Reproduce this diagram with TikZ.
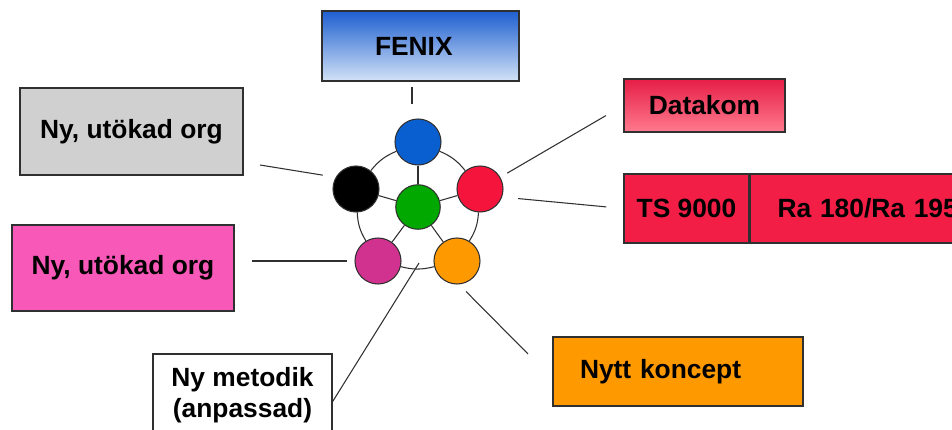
\documentclass[tikz,border=0pt]{standalone}
\usepackage{fontspec}
\setmainfont{Liberation Sans}
\usepackage{xcolor}
\definecolor{FenixTop}{HTML}{1E5FD0}
\definecolor{FenixBottom}{HTML}{D2E2F6}
\definecolor{DatakomTop}{HTML}{E61E46}
\definecolor{DatakomBottom}{HTML}{FF7A8E}
\definecolor{TsRed}{HTML}{F21E46}
\definecolor{OrgGrey}{HTML}{D0D0D0}
\definecolor{OrgPink}{HTML}{F858B8}
\definecolor{KonceptOrange}{HTML}{FF9900}
\definecolor{DotBlue}{HTML}{0A5FD0}
\definecolor{DotRed}{HTML}{F5143C}
\definecolor{DotGreen}{HTML}{00A800}
\definecolor{DotMagenta}{HTML}{D2328F}
\definecolor{DotOrange}{HTML}{FF9900}
\definecolor{LineGrey}{HTML}{303030}
\usepackage{tikz}
\usetikzlibrary{positioning}

\begin{document}
\begin{tikzpicture}[
    x=0.2mm, y=-0.2mm,
    box/.style={
      rectangle, draw=LineGrey, line width=0.9pt,
      inner sep=0pt, align=center,
      font=\fontsize{15}{17.5}\selectfont\bfseries
    },
    dot/.style={circle, draw=LineGrey, line width=0.6pt, minimum size=9.2mm, inner sep=0pt},
    ring/.style={LineGrey, line width=0.6pt},
    conn/.style={LineGrey, line width=0.6pt}
  ]
    \useasboundingbox (0,0) rectangle (952,429);
    \clip (0,0) rectangle (952,429);
    \fill[white] (0,0) rectangle (952,429);

    \node[box, top color=FenixTop, bottom color=FenixBottom, minimum height=14mm,
          inner xsep=10.6mm, text width=18.2mm, align=left] (fenix) at (420.5,46) {FENIX};
    \node[box, top color=DatakomTop, bottom color=DatakomBottom,
          minimum width=32.2mm, minimum height=10.6mm] (datakom) at (704.5,105.5) {Datakom};
    \node[box, fill=TsRed, minimum width=25mm, minimum height=13.8mm] (ts) at (686.5,208.5) {TS 9000};
    \node[box, fill=TsRed, minimum height=13.8mm, inner xsep=5.4mm, text width=49.2mm,
          align=left, right=0pt of ts] (ra) {Ra 180/Ra 195};
    \node[box, fill=OrgGrey, minimum width=44.6mm, minimum height=17.4mm] (grey) at (131.5,131.5) {Ny, utökad org};
    \node[box, fill=OrgPink, minimum width=44.4mm, minimum height=17.2mm] (pink) at (123,268) {Ny, utökad org};
    \node[box, fill=white, minimum width=35.8mm, minimum height=16.4mm] (metodik) at (242.5,395) {Ny metodik\\(anpassad)};
    \node[box, fill=KonceptOrange, minimum height=13.8mm, inner xsep=5.4mm, text width=39.2mm,
          align=left] (koncept) at (678,371.5) {Nytt koncept};

    \node[dot, fill=DotBlue] (blue) at (418,142) {};
    \node[dot, fill=black] (black) at (356,189) {};
    \node[dot, fill=DotRed] (red) at (480,189) {};
    \node[dot, fill=DotGreen, minimum size=8.9mm] (green) at (418,207) {};
    \node[dot, fill=DotMagenta] (magenta) at (378,261) {};
    \node[dot, fill=DotOrange] (orange) at (457,261) {};

    \draw[ring] (blue) to[bend left=14] (red);
    \draw[ring] (red) to[bend left=14] (orange);
    \draw[ring] (orange) to[bend left=14] (magenta);
    \draw[ring] (magenta) to[bend left=14] (black);
    \draw[ring] (black) to[bend left=14] (blue);
    \foreach \outer in {blue, red, orange, magenta, black}
      \draw[ring] (green) -- (\outer);

    \coordinate (fx) at (412,87);
    \coordinate (gy) at (260,165);
    \coordinate (mt) at (419,263);
    \coordinate (nk) at (528,354);

    \draw[conn, shorten >=2.8mm] (fx) -- (fx |- blue.north);
    \draw[conn, shorten <=1.6mm, shorten >=4mm] (red) -- (datakom.west);
    \draw[conn, shorten <=3.2mm, shorten >=3.4mm] (red.-20) -- (ts.west);
    \draw[conn, shorten <=2.6mm] (black.150) -- (gy);
    \draw[conn, shorten <=1.4mm, shorten >=3.4mm] (magenta.west) -- (magenta.west -| pink.east);
    \draw[conn] (metodik.-4.5) -- (mt);
    \draw[conn, shorten <=2mm] (orange.-85) -- (nk);
  \end{tikzpicture}
\end{document}
